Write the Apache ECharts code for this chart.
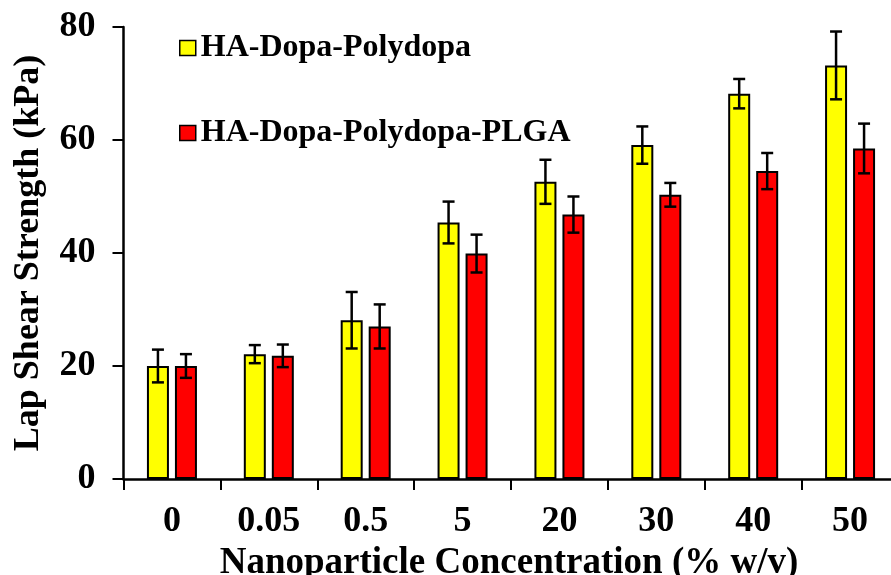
<!DOCTYPE html>
<html>
<head>
<meta charset="utf-8">
<script src="https://cdn.jsdelivr.net/npm/echarts@6/dist/echarts.min.js"></script>
<style>
html,body{margin:0;padding:0;background:#fff;}
#chart{width:891px;height:575px;}
</style>
</head>
<body>
<div id="chart"></div>
<script>
const categories = ['0', '0.05', '0.5', '5', '20', '30', '40', '50'];
const seriesNames = ['HA-Dopa-Polydopa', 'HA-Dopa-Polydopa-PLGA'];
const yellowValues = [20.0, 22.1, 28.1, 45.4, 52.6, 59.1, 68.2, 73.2];
const yellowErrors = [2.9, 1.6, 5.0, 3.7, 3.9, 3.3, 2.6, 6.0];
const redValues = [20.0, 21.8, 27.0, 39.9, 46.8, 50.3, 54.5, 58.5];
const redErrors = [2.1, 2.0, 3.9, 3.35, 3.2, 2.1, 3.2, 4.4];
const yTicks = [0, 20, 40, 60, 80];

const FONT = '"Liberation Serif", "Times New Roman", serif';
const BAR_W = 22;
const BAR_GAP = 6;
const OFFSET = (BAR_W + BAR_GAP) / 2;

function errorSeries(values, errors, sign) {
  return {
    type: 'custom',
    silent: true,
    z: 5,
    data: values.map((v, i) => [i, v, errors[i]]),
    renderItem: function (params, api) {
      const i = api.value(0), v = api.value(1), e = api.value(2);
      const top = api.coord([i, v + e]);
      const bot = api.coord([i, v - e]);
      const x = top[0] + sign * OFFSET;
      const cap = 6;
      const style = { stroke: '#000', lineWidth: 2.5, fill: null };
      return {
        type: 'group',
        children: [
          { type: 'line', shape: { x1: x, y1: top[1], x2: x, y2: bot[1] }, style: style },
          { type: 'line', shape: { x1: x - cap, y1: top[1], x2: x + cap, y2: top[1] }, style: style },
          { type: 'line', shape: { x1: x - cap, y1: bot[1], x2: x + cap, y2: bot[1] }, style: style }
        ]
      };
    }
  };
}

const chart = echarts.init(document.getElementById('chart'), null, { renderer: 'canvas' });
const legendText = { fontFamily: FONT, fontWeight: 'bold', fontSize: 32, color: '#000' };
chart.setOption({
  backgroundColor: '#fff',
  animation: false,
  textStyle: { fontFamily: FONT },
  legend: [
    { data: [seriesNames[0]], left: 174, top: 27, padding: 5, icon: 'rect', itemWidth: 16, itemHeight: 15, itemGap: 7,
      textStyle: legendText, itemStyle: { borderColor: '#000', borderWidth: 1.5 }, selectedMode: false },
    { data: [seriesNames[1]], left: 174, top: 112, padding: 5, icon: 'rect', itemWidth: 16, itemHeight: 15, itemGap: 7,
      textStyle: legendText, itemStyle: { borderColor: '#000', borderWidth: 1.5 }, selectedMode: false }
  ],
  grid: { left: 123.5, top: 27, width: 775, height: 452, containLabel: false, outerBoundsMode: 'none' },
  xAxis: {
    type: 'category',
    data: categories,
    boundaryGap: true,
    name: 'Nanoparticle Concentration (% w/v)',
    nameLocation: 'middle',
    nameGap: 61,
    nameTextStyle: { fontFamily: FONT, fontWeight: 'bold', fontSize: 37, color: '#000', padding: [0, 4, 0, 0] },
    axisLine: { lineStyle: { color: '#000', width: 2.5 } },
    axisTick: { show: true, alignWithLabel: false, length: 11, lineStyle: { color: '#000', width: 2 } },
    axisLabel: { fontFamily: FONT, fontWeight: 'bold', fontSize: 36, color: '#000', margin: 25, interval: 0 },
    splitLine: { show: false }
  },
  yAxis: {
    type: 'value',
    min: yTicks[0],
    max: yTicks[yTicks.length - 1],
    interval: yTicks[1] - yTicks[0],
    name: 'Lap Shear Strength (kPa)',
    nameLocation: 'middle',
    nameGap: 77,
    nameTextStyle: { fontFamily: FONT, fontWeight: 'bold', fontSize: 36, color: '#000' },
    axisLine: { show: true, lineStyle: { color: '#000', width: 2.5 } },
    axisTick: { show: true, inside: false, length: 11, lineStyle: { color: '#000', width: 2 } },
    axisLabel: { fontFamily: FONT, fontWeight: 'bold', fontSize: 36, color: '#000', margin: 28 },
    splitLine: { show: false }
  },
  series: [
    { name: seriesNames[0], type: 'bar', data: yellowValues, barWidth: BAR_W, barGap: (BAR_GAP / BAR_W * 100) + '%',
      itemStyle: { color: '#ffff00', borderColor: '#000', borderWidth: 2 } },
    { name: seriesNames[1], type: 'bar', data: redValues, barWidth: BAR_W,
      itemStyle: { color: '#ff0000', borderColor: '#000', borderWidth: 2 } },
    errorSeries(yellowValues, yellowErrors, -1),
    errorSeries(redValues, redErrors, 1)
  ]
});
</script>
</body>
</html>
